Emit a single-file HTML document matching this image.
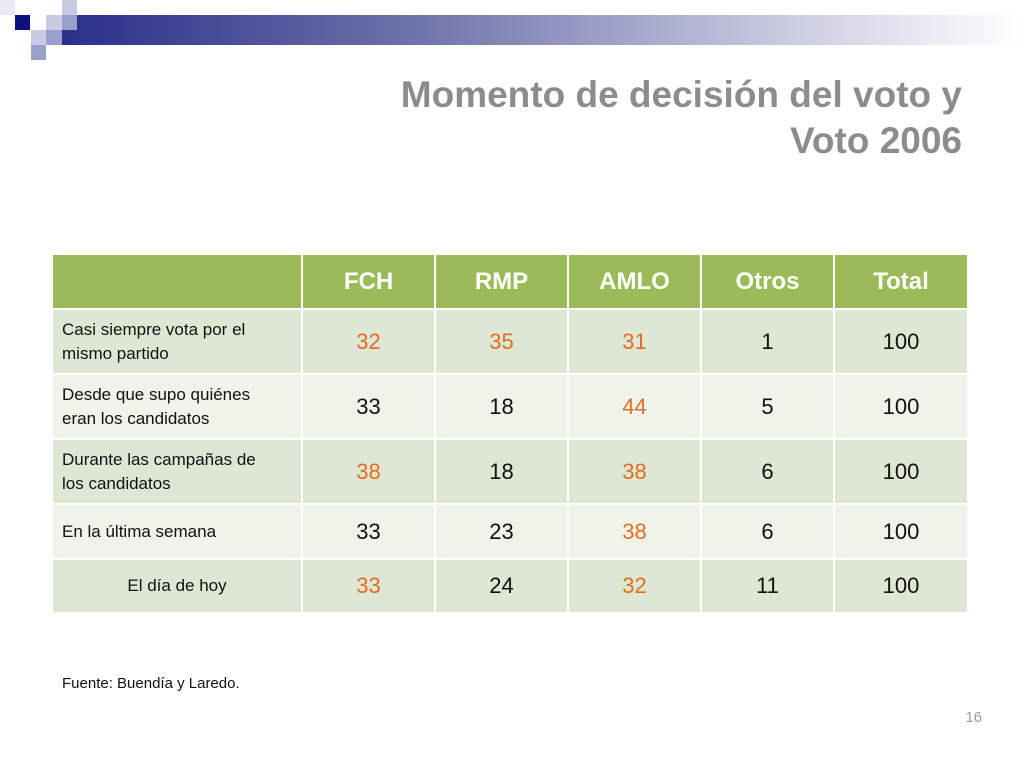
<!DOCTYPE html>
<html><head><meta charset="utf-8"><style>
body{margin:0;width:1024px;height:768px;background:#fff;position:relative;overflow:hidden;font-family:"Liberation Sans",Arial,Helvetica,sans-serif}
.sq{position:absolute}
h1{position:absolute;right:62px;top:72px;margin:0;text-align:right;font-size:37px;line-height:46px;color:#8c8c8c;font-weight:bold}
table{position:absolute;left:51px;top:253px;border-collapse:collapse;table-layout:fixed;width:916px}
td,th{border:2px solid #fff;padding:0;text-align:center}
th{background:#9bbb59;color:#fff;font-size:24px;font-weight:bold;height:53px}
td{font-size:22px;color:#111}
td.lab{text-align:left;font-size:17px;padding-left:9px;line-height:24px}
tr.a td{background:#dee7d3}
tr.b td{background:#eff3ea}
.o{color:#e36c1f}
</style></head><body>
<div class="sq" style="left:0;top:0;width:15px;height:15px;background:#e8e9f4"></div>
<div class="sq" style="left:15px;top:15px;width:15px;height:15px;background:#0c0f80"></div>
<div class="sq" style="left:62px;top:0;width:15px;height:15px;background:#c8cbe2"></div>
<div class="sq" style="left:46px;top:15px;width:16px;height:15px;background:#c8cbe2"></div>
<div class="sq" style="left:31px;top:30px;width:15px;height:15px;background:#c8cbe2"></div>
<div class="sq" style="left:46px;top:30px;width:16px;height:15px;background:#9aa0cc"></div>
<div class="sq" style="left:31px;top:45px;width:15px;height:15px;background:#9aa0cc"></div>
<div class="sq" style="left:62px;top:15px;width:960px;height:30px;background:linear-gradient(90deg,#2a2f8a,#6a6fa8 35%,#c8cae0 75%,#fff)"></div>
<div class="sq" style="left:62px;top:15px;width:15px;height:15px;background:#9aa0cc"></div>
<h1>Momento de decisión del voto y<br>Voto 2006</h1>
<table>
<colgroup><col style="width:250px"><col style="width:133px"><col style="width:133px"><col style="width:133px"><col style="width:133px"><col style="width:134px"></colgroup>
<tr><th></th><th>FCH</th><th>RMP</th><th>AMLO</th><th>Otros</th><th>Total</th></tr>
<tr class="a" style="height:65px"><td class="lab">Casi siempre vota por el<br>mismo partido</td><td class="o">32</td><td class="o">35</td><td class="o">31</td><td>1</td><td>100</td></tr>
<tr class="b" style="height:65px"><td class="lab">Desde que supo quiénes<br>eran los candidatos</td><td>33</td><td>18</td><td class="o">44</td><td>5</td><td>100</td></tr>
<tr class="a" style="height:65px"><td class="lab">Durante las campañas de<br>los candidatos</td><td class="o">38</td><td>18</td><td class="o">38</td><td>6</td><td>100</td></tr>
<tr class="b" style="height:55px"><td class="lab">En la última semana</td><td>33</td><td>23</td><td class="o">38</td><td>6</td><td>100</td></tr>
<tr class="a" style="height:54px"><td class="lab" style="text-align:center;padding-left:0">El día de hoy</td><td class="o">33</td><td>24</td><td class="o">32</td><td>11</td><td>100</td></tr>
</table>
<div style="position:absolute;left:62px;top:675px;font-size:15px;color:#111">Fuente: Buendía y Laredo.</div>
<div style="position:absolute;right:42px;top:709px;font-size:15px;color:#999">16</div>
</body></html>
